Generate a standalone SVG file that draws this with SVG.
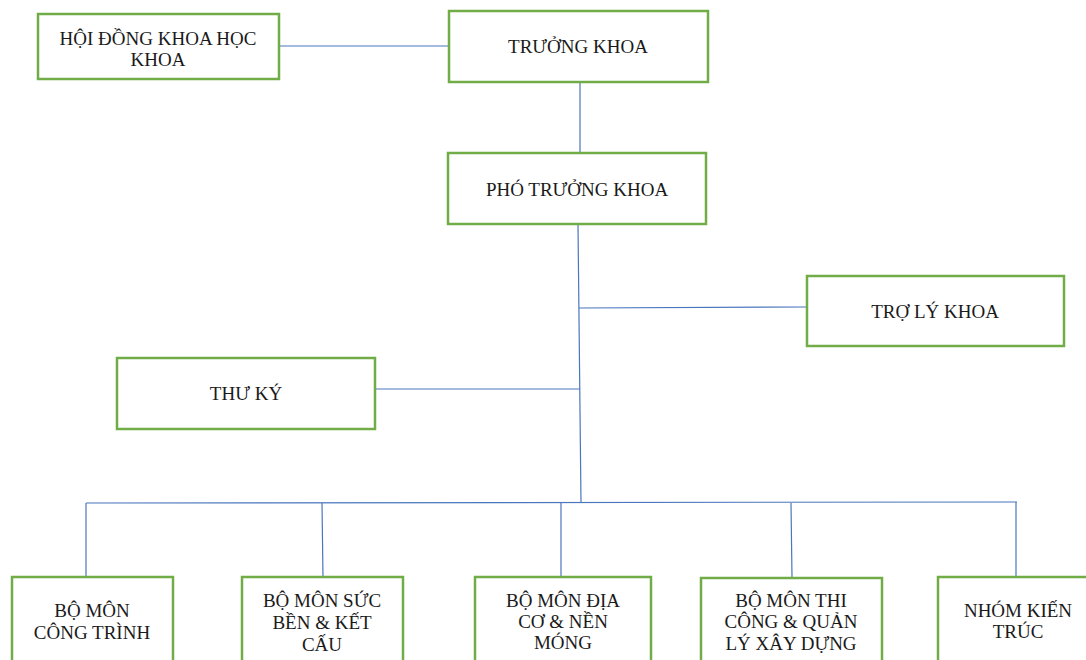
<svg xmlns="http://www.w3.org/2000/svg" width="1086" height="660" viewBox="0 0 1086 660">
<style>
.box{fill:#ffffff;stroke:#70AD47;stroke-width:2.5}
.t{font-family:"Liberation Serif","Times New Roman",serif;font-size:19px;fill:#1a1a1a;text-anchor:middle}
.c{stroke:#4A76BD;stroke-width:1.2;fill:none}
</style>
<rect width="1086" height="660" fill="#ffffff"/>
<g id="connectors">
<line class="c" x1="279" y1="46" x2="449" y2="46"/>
<line class="c" x1="580" y1="82" x2="580" y2="153"/>
<line class="c" x1="578" y1="225" x2="581" y2="503"/>
<line class="c" x1="579" y1="308" x2="807" y2="307"/>
<line class="c" x1="375" y1="389" x2="580" y2="389"/>
<line class="c" x1="86" y1="503" x2="1017" y2="502"/>
<line class="c" x1="86" y1="503" x2="86" y2="577"/>
<line class="c" x1="322" y1="503" x2="323" y2="577"/>
<line class="c" x1="561" y1="503" x2="561" y2="577"/>
<line class="c" x1="791" y1="503" x2="792" y2="577"/>
<line class="c" x1="1016" y1="502" x2="1016" y2="577"/>
</g>
<g id="hoi-dong">
<rect class="box" x="38" y="14" width="241" height="65"/>
<text class="t" x="158" y="45">HỘI ĐỒNG KHOA HỌC</text>
<text class="t" x="158" y="66">KHOA</text>
</g>
<g id="truong-khoa">
<rect class="box" x="449" y="11" width="259" height="71"/>
<text class="t" x="578" y="53">TRƯỞNG KHOA</text>
</g>
<g id="pho-truong-khoa">
<rect class="box" x="448" y="153" width="258" height="71"/>
<text class="t" x="577" y="196">PHÓ TRƯỞNG KHOA</text>
</g>
<g id="tro-ly-khoa">
<rect class="box" x="807" y="276" width="257" height="70"/>
<text class="t" x="935" y="318">TRỢ LÝ KHOA</text>
</g>
<g id="thu-ky">
<rect class="box" x="117" y="358" width="258" height="71"/>
<text class="t" x="246" y="400">THƯ KÝ</text>
</g>
<g id="bm-cong-trinh">
<rect class="box" x="12" y="577" width="161" height="100"/>
<text class="t" x="92" y="617">BỘ MÔN</text>
<text class="t" x="92" y="639">CÔNG TRÌNH</text>
</g>
<g id="bm-suc-ben">
<rect class="box" x="242" y="577" width="161" height="100"/>
<text class="t" x="322" y="607">BỘ MÔN SỨC</text>
<text class="t" x="322" y="629">BỀN &amp; KẾT</text>
<text class="t" x="322" y="651">CẤU</text>
</g>
<g id="bm-dia-co">
<rect class="box" x="475" y="577" width="176" height="100"/>
<text class="t" x="563" y="607">BỘ MÔN ĐỊA</text>
<text class="t" x="563" y="628">CƠ &amp; NỀN</text>
<text class="t" x="563" y="649">MÓNG</text>
</g>
<g id="bm-thi-cong">
<rect class="box" x="701" y="578" width="181" height="100"/>
<text class="t" x="791" y="607">BỘ MÔN THI</text>
<text class="t" x="791" y="628">CÔNG &amp; QUẢN</text>
<text class="t" x="791" y="650">LÝ XÂY DỰNG</text>
</g>
<g id="nhom-kien-truc">
<rect class="box" x="938" y="577" width="160" height="100"/>
<text class="t" x="1018" y="617">NHÓM KIẾN</text>
<text class="t" x="1018" y="638">TRÚC</text>
</g>
</svg>
